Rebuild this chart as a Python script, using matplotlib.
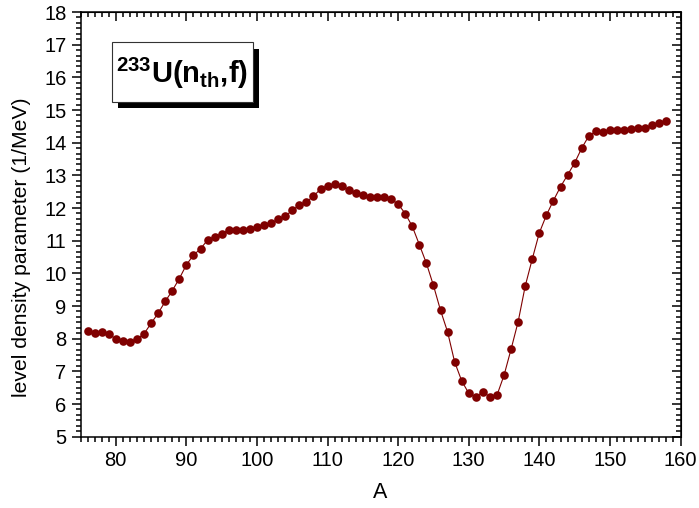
import numpy as np
import matplotlib
matplotlib.use('Agg')
from matplotlib import pyplot as plt
from matplotlib.ticker import MultipleLocator, AutoMinorLocator
from matplotlib.patches import Rectangle

plt.rcParams['font.family'] = ['Liberation Sans', 'DejaVu Sans']
plt.rcParams['mathtext.fontset'] = 'custom'
plt.rcParams['mathtext.rm'] = 'Liberation Sans'
plt.rcParams['mathtext.bf'] = 'Liberation Sans:bold'

# mass number A and level density parameter (1/MeV)
mass = list(range(76, 159))
level_density = [
    8.23, 8.18, 8.20, 8.15, 7.99, 7.93, 7.91, 7.99, 8.15, 8.47,   # 76-85
    8.78, 9.14, 9.47, 9.84, 10.26, 10.56, 10.75, 11.02, 11.12, 11.21,  # 86-95
    11.33, 11.33, 11.33, 11.37, 11.42, 11.47, 11.54, 11.65, 11.75, 11.93,  # 96-105
    12.09, 12.19, 12.36, 12.58, 12.68, 12.74, 12.66, 12.55, 12.46, 12.41,  # 106-115
    12.34, 12.33, 12.33, 12.27, 12.12, 11.83, 11.44, 10.88, 10.31, 9.63,  # 116-125
    8.87, 8.21, 7.29, 6.71, 6.33, 6.22, 6.37, 6.22, 6.27, 6.88,  # 126-135
    7.68, 8.52, 9.61, 10.44, 11.24, 11.78, 12.23, 12.65, 13.01, 13.38,  # 136-145
    13.83, 14.20, 14.35, 14.33, 14.38, 14.38, 14.38, 14.41, 14.46, 14.46,  # 146-155
    14.53, 14.60, 14.65,  # 156-158
]

fig = plt.figure(figsize=(6.99, 5.08), dpi=100)
ax = fig.add_axes([80.5 / 699, 1 - 436.7 / 508, 600 / 699, (436.7 - 12) / 508])

ax.plot(mass, level_density, color='#7f0000', lw=0.8, marker='o',
        markersize=6.2, markeredgewidth=0)

ax.set_xlim(75, 160)
ax.set_ylim(5, 18)
ax.xaxis.set_major_locator(MultipleLocator(10))
ax.xaxis.set_minor_locator(MultipleLocator(1))
ax.yaxis.set_major_locator(MultipleLocator(1))
ax.yaxis.set_minor_locator(AutoMinorLocator(6))
ax.tick_params(which='both', direction='out', width=1.1, labelsize=14.5)
ax.tick_params(which='major', length=6.5)
ax.tick_params(which='minor', length=3.5)
for s in ax.spines.values():
    s.set_linewidth(1.1)

# top and right axes with inward ticks, no labels
top = ax.secondary_xaxis('top')
top.xaxis.set_major_locator(MultipleLocator(10))
top.xaxis.set_minor_locator(MultipleLocator(1))
top.tick_params(which='both', direction='in', width=1.1, labeltop=False)
top.tick_params(which='major', length=6.5)
top.tick_params(which='minor', length=3.5)
right = ax.secondary_yaxis('right')
right.yaxis.set_major_locator(MultipleLocator(1))
right.yaxis.set_minor_locator(AutoMinorLocator(6))
right.tick_params(which='both', direction='in', width=1.1, labelright=False)
right.tick_params(which='major', length=6.5)
right.tick_params(which='minor', length=3.5)

ax.set_xlabel('A', fontsize=15.5, labelpad=9)
ax.set_ylabel('level density parameter (1/MeV)', fontsize=15.2)
ax.yaxis.set_label_coords(-0.083, 0.447)

# label box with drop shadow
W, H = 699, 508
def pix_rect(x0, y0, x1, y1, **kw):
    return Rectangle((x0 / W, 1 - y1 / H), (x1 - x0) / W, (y1 - y0) / H,
                     transform=fig.transFigure, **kw)

fig.patches.append(pix_rect(118.4, 49, 259.3, 108.3, facecolor='black', edgecolor='none'))
fig.patches.append(pix_rect(111.7, 42.3, 252.7, 101.7, facecolor='white',
                            edgecolor='#333333', lw=0.8))
fig.text(182 / W, 1 - 73 / H, r'$\mathbf{{}^{233}U(n_{th}{,}f)}$', fontsize=21,
         ha='center', va='center')

fig.savefig('out.png', dpi=100)
